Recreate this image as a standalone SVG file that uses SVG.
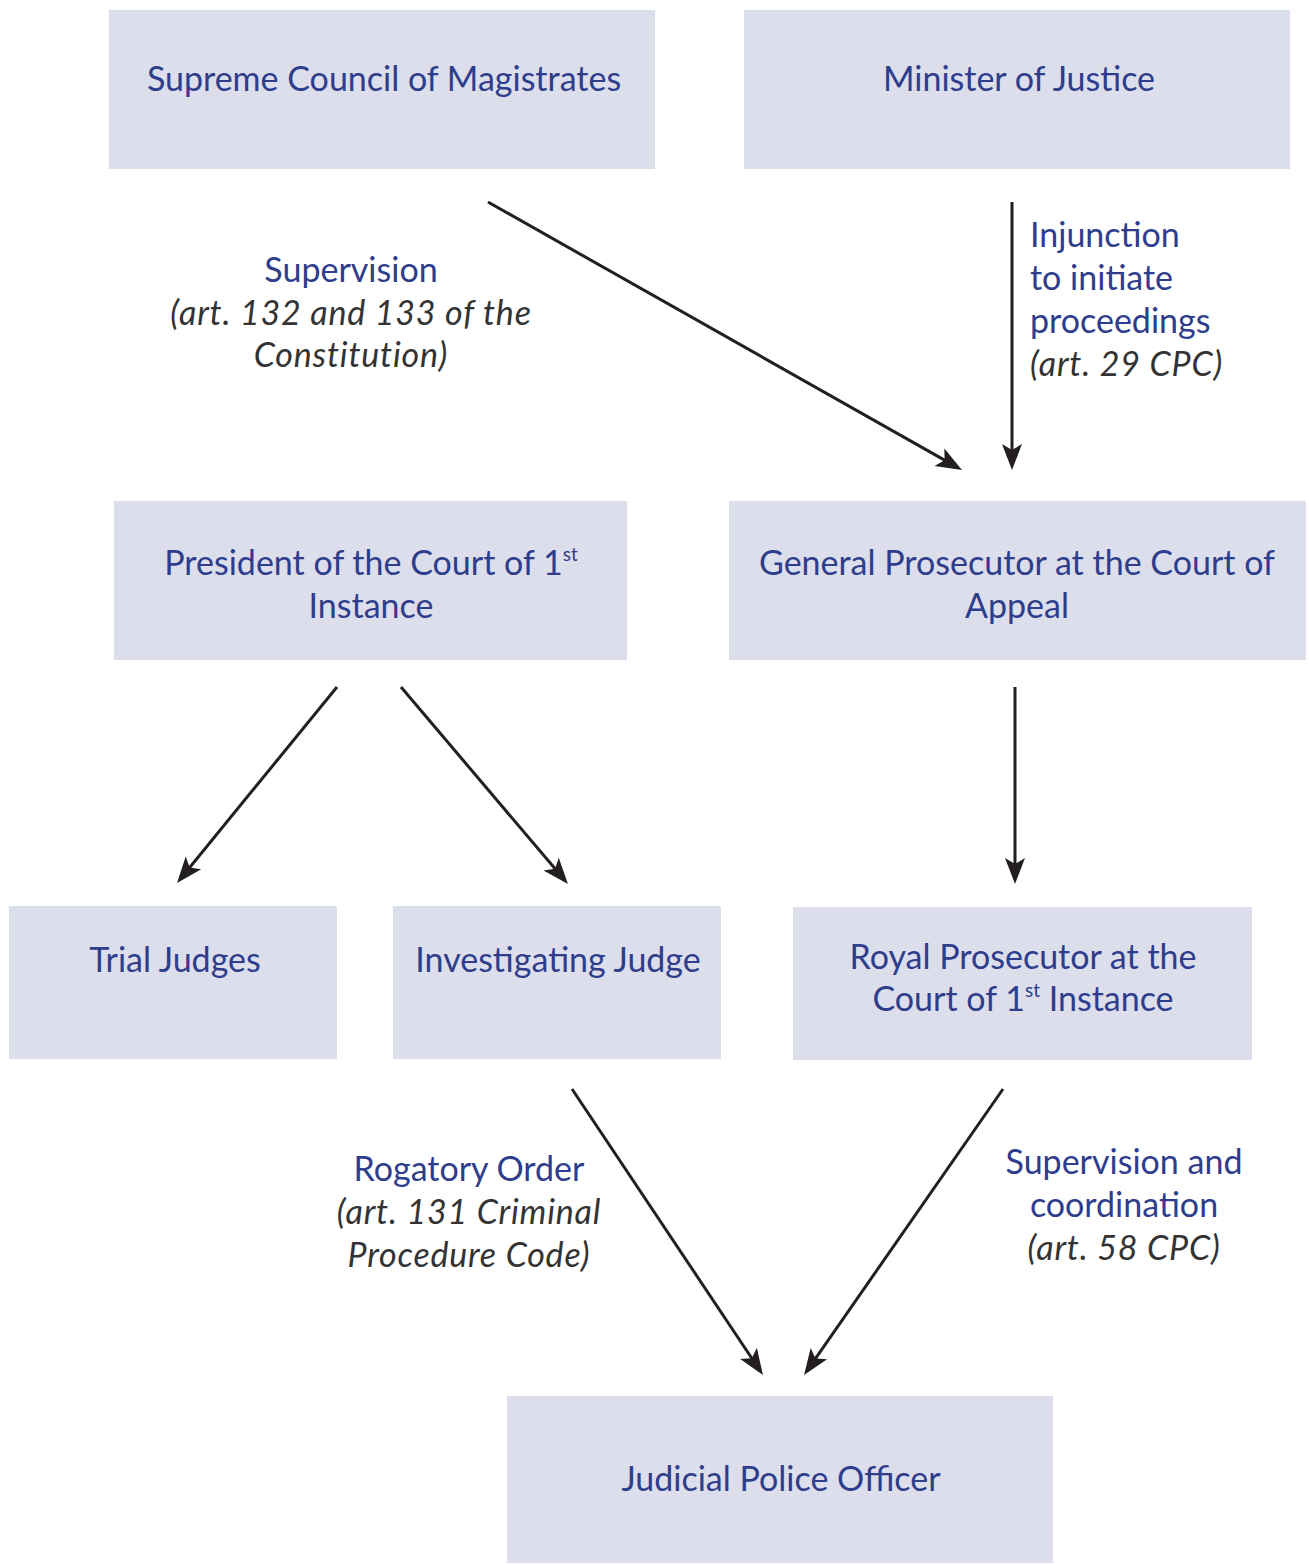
<svg xmlns="http://www.w3.org/2000/svg" width="1309" height="1564" viewBox="0 0 1309 1564">
<style>
.box{fill:#dcdeeb}
.t{font-family:Lato,"Open Sans","Liberation Sans",sans-serif;font-size:34px;fill:#2e3d8c;text-anchor:middle}
.l{text-anchor:start}
.i{font-style:italic;fill:#333333;letter-spacing:0.8px}
.sup{font-size:19px}
.c{fill:none;stroke:#231f20;stroke-width:3}
</style>
<defs>
<marker id="ah" markerUnits="userSpaceOnUse" markerWidth="40" markerHeight="40" viewBox="-20 -20 40 40" refX="0" refY="0" orient="auto">
<path d="M12,0 L-14,-10 L-8,0 L-14,10 Z" fill="#231f20"/>
</marker>
</defs>
<rect width="1309" height="1564" fill="#ffffff"/>
<g id="supreme-council"><rect class="box" x="109" y="10" width="546" height="159"/><text class="t" x="384" y="91">Supreme Council of Magistrates</text></g>
<g id="minister"><rect class="box" x="744" y="10" width="546" height="159"/><text class="t" x="1019" y="91">Minister of Justice</text></g>
<g id="president"><rect class="box" x="114" y="501" width="513" height="159"/><text class="t" x="371" y="575">President of the Court of 1<tspan class="sup" dy="-14">st</tspan></text><text class="t" x="371" y="618">Instance</text></g>
<g id="general-prosecutor"><rect class="box" x="729" y="501" width="577" height="159"/><text class="t" x="1017" y="575">General Prosecutor at the Court of</text><text class="t" x="1017" y="618">Appeal</text></g>
<g id="trial-judges"><rect class="box" x="9" y="906" width="328" height="153"/><text class="t" x="175" y="972">Trial Judges</text></g>
<g id="investigating-judge"><rect class="box" x="393" y="906" width="328" height="153"/><text class="t" x="558" y="972">Investigating Judge</text></g>
<g id="royal-prosecutor"><rect class="box" x="793" y="907" width="459" height="153"/><text class="t" x="1023" y="969">Royal Prosecutor at the</text><text class="t" x="1023" y="1011">Court of 1<tspan class="sup" dy="-14">st</tspan><tspan dy="14"> Instance</tspan></text></g>
<g id="judicial-police"><rect class="box" x="507" y="1396" width="546" height="167"/><text class="t" x="781" y="1491">Judicial Police Officer</text></g>
<g id="connectors">
<line class="c" x1="488" y1="202" x2="951.6" y2="464.1" marker-end="url(#ah)"/>
<line class="c" x1="1012" y1="202" x2="1012" y2="458" marker-end="url(#ah)"/>
<line class="c" x1="337" y1="687" x2="184.6" y2="873.7" marker-end="url(#ah)"/>
<line class="c" x1="401" y1="687" x2="560.2" y2="874.8" marker-end="url(#ah)"/>
<line class="c" x1="1015" y1="687" x2="1015" y2="872" marker-end="url(#ah)"/>
<line class="c" x1="572" y1="1089" x2="756.3" y2="1365" marker-end="url(#ah)"/>
<line class="c" x1="1003" y1="1089" x2="810.9" y2="1365.1" marker-end="url(#ah)"/>
</g>
<g id="labels">
<text class="t" x="351" y="282">Supervision</text>
<text class="t i" x="351" y="325">(art. 132 and 133 of the</text>
<text class="t i" x="351" y="367">Constitution)</text>
<text class="t l" x="1030" y="247">Injunction</text>
<text class="t l" x="1030" y="290">to initiate</text>
<text class="t l" x="1030" y="333">proceedings</text>
<text class="t l i" x="1030" y="376">(art. 29 CPC)</text>
<text class="t" x="469" y="1181">Rogatory Order</text>
<text class="t i" x="469" y="1224">(art. 131 Criminal</text>
<text class="t i" x="469" y="1267">Procedure Code)</text>
<text class="t" x="1124" y="1174">Supervision and</text>
<text class="t" x="1124" y="1217">coordination</text>
<text class="t i" x="1124" y="1260">(art. 58 CPC)</text>
</g>
</svg>
